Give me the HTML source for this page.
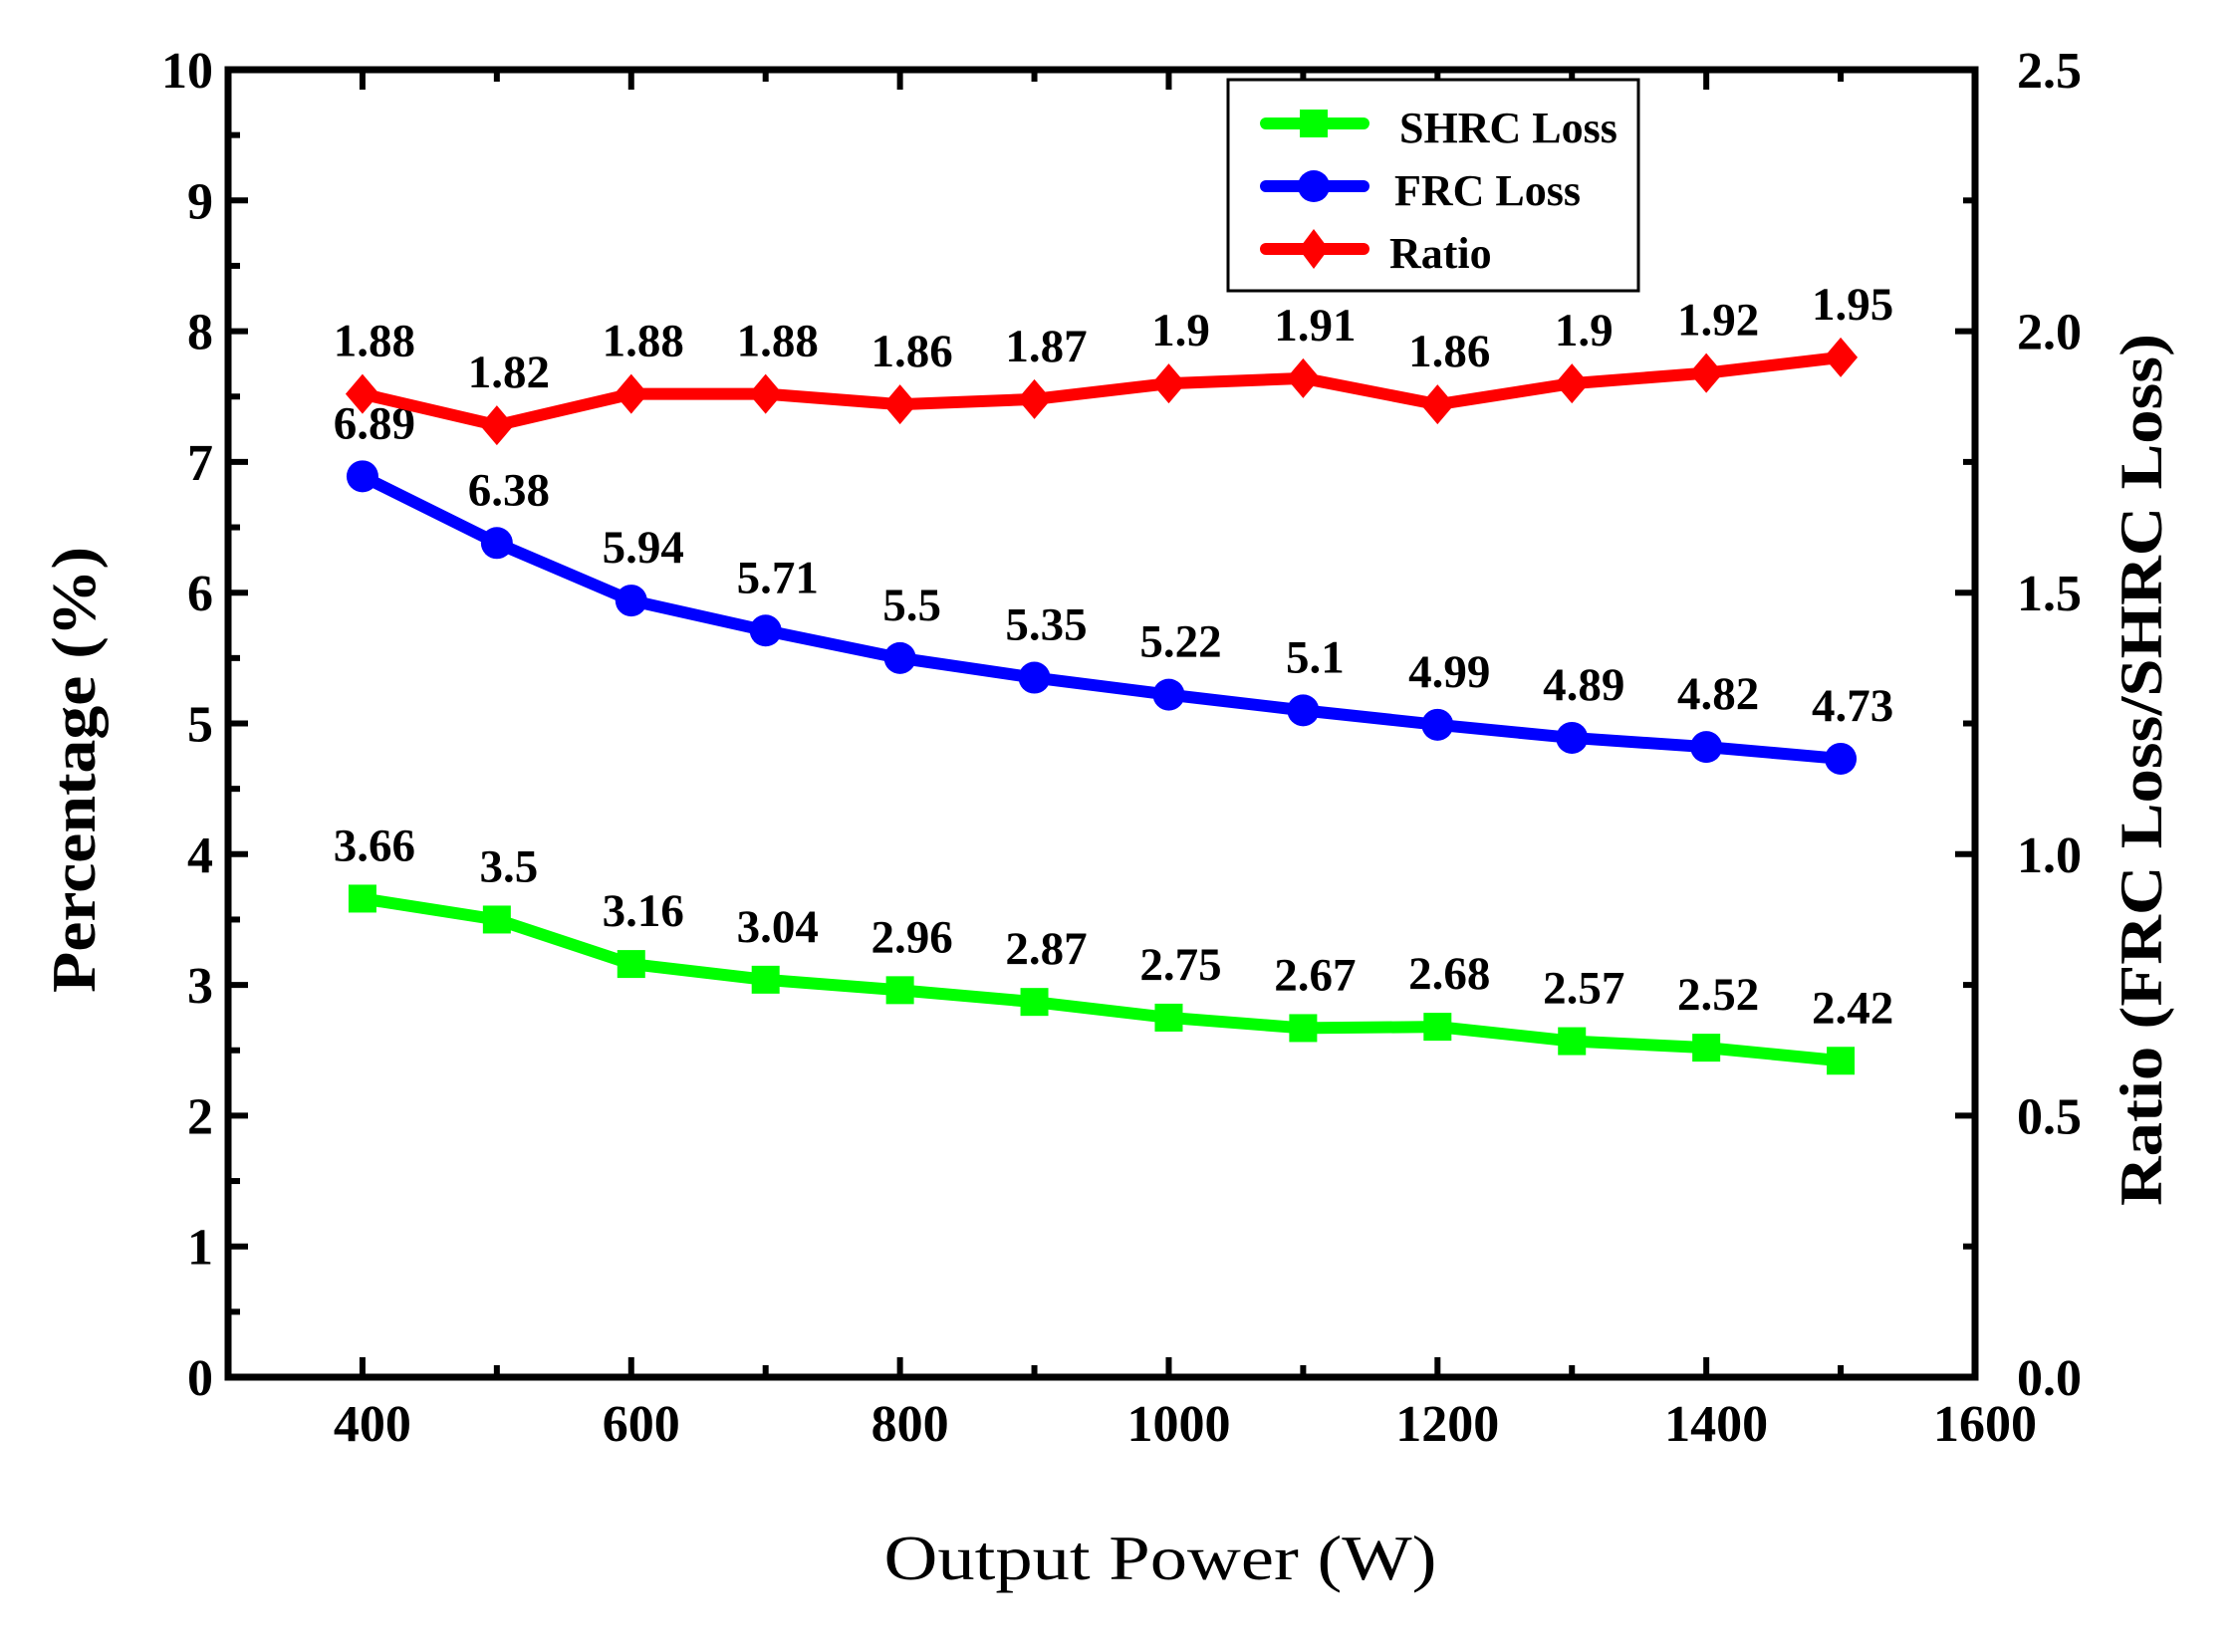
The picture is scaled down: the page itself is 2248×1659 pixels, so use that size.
<!DOCTYPE html>
<html><head><meta charset="utf-8"><style>
html,body{margin:0;padding:0;background:#fff;}
svg{display:block;}
text{font-family:"Liberation Serif",serif;}
</style></head><body>
<svg id="s" width="2248" height="1659" viewBox="0 0 2248 1659" xmlns="http://www.w3.org/2000/svg"></svg>
<script>
const s=document.getElementById('s');
const L=229,R=1983,T=70,B=1383;
const X=v=>L+(v-300)*(R-L)/1300;
const Y=v=>B-v*(B-T)/10;
const YR=v=>B-v*(B-T)/2.5;
let h='';
for(let v=400;v<=1500;v+=100){const x=X(v);const len=(v%200===0)?20:12;
 h+=`<line x1="${x}" y1="${B}" x2="${x}" y2="${B-len}" stroke="#000" stroke-width="6"/>`;
 h+=`<line x1="${x}" y1="${T}" x2="${x}" y2="${T+len}" stroke="#000" stroke-width="6"/>`;}
for(let v=0.5;v<10;v+=0.5){const y=Y(v);const len=(v%1===0)?20:12;
 h+=`<line x1="${L}" y1="${y}" x2="${L+len}" y2="${y}" stroke="#000" stroke-width="6"/>`;}
for(let k=1;k<10;k++){const y=Y(k);const len=(k%2===0)?20:12;
 h+=`<line x1="${R}" y1="${y}" x2="${R-len}" y2="${y}" stroke="#000" stroke-width="6"/>`;}
h+=`<rect x="${L}" y="${T}" width="${R-L}" height="${B-T}" fill="none" stroke="#000" stroke-width="7"/>`;
for(let k=0;k<=10;k++){h+=`<text x="214" y="${Y(k)+18}" font-size="52" font-weight="bold" text-anchor="end">${k}</text>`;}
['0.0','0.5','1.0','1.5','2.0','2.5'].forEach((t,i)=>{h+=`<text x="2025" y="${YR(i*0.5)+18}" font-size="52" font-weight="bold">${t}</text>`;});
for(let v=400;v<=1600;v+=200){h+=`<text x="${X(v)+10}" y="1447" font-size="52" font-weight="bold" text-anchor="middle">${v}</text>`;}
h+=`<text transform="translate(95,773) rotate(-90)" font-size="62" font-weight="bold" text-anchor="middle" textLength="448" lengthAdjust="spacingAndGlyphs">Percentage (%)</text>`;
h+=`<text transform="translate(2170,773) rotate(-90)" font-size="60" font-weight="bold" text-anchor="middle" textLength="876" lengthAdjust="spacingAndGlyphs">Ratio (FRC Loss/SHRC Loss)</text>`;
h+=`<text x="1165" y="1586" font-size="64" text-anchor="middle" textLength="555" lengthAdjust="spacingAndGlyphs">Output Power (W)</text>`;
const xs=[400,500,600,700,800,900,1000,1100,1200,1300,1400,1500];
const sh=[3.66,3.5,3.16,3.04,2.96,2.87,2.75,2.67,2.68,2.57,2.52,2.42];
const fr=[6.89,6.38,5.94,5.71,5.5,5.35,5.22,5.1,4.99,4.89,4.82,4.73];
const ra=[1.88,1.82,1.88,1.88,1.86,1.87,1.9,1.91,1.86,1.9,1.92,1.95];
function series(vals,yf,col,mk){
 const pts=xs.map((x,i)=>[X(x),yf(vals[i])]);
 h+=`<polyline points="${pts.map(p=>p.join(',')).join(' ')}" fill="none" stroke="${col}" stroke-width="12" stroke-linejoin="miter"/>`;
 pts.forEach((p,i)=>{
  if(mk==='s')h+=`<rect x="${p[0]-14}" y="${p[1]-14}" width="28" height="28" fill="${col}"/>`;
  if(mk==='c')h+=`<circle cx="${p[0]}" cy="${p[1]}" r="16" fill="${col}"/>`;
  if(mk==='d')h+=`<polygon points="${p[0]},${p[1]-20} ${p[0]+17},${p[1]} ${p[0]},${p[1]+20} ${p[0]-17},${p[1]}" fill="${col}"/>`;
  h+=`<text x="${p[0]+12}" y="${p[1]-38}" font-size="47" font-weight="bold" text-anchor="middle">${vals[i]}</text>`;
 });
}
series(sh,Y,'#00ff00','s');
series(fr,Y,'#0000ff','c');
series(ra,YR,'#ff0000','d');
h+=`<rect x="1233" y="80" width="412" height="212" fill="#fff" stroke="#000" stroke-width="3"/>`;
const le=[[124,'#00ff00','s','SHRC Loss',1405],[187,'#0000ff','c','FRC Loss',1400],[250,'#ff0000','d','Ratio',1395]];
le.forEach(([y,c,m,t,tx])=>{
 h+=`<line x1="1271" y1="${y}" x2="1369" y2="${y}" stroke="${c}" stroke-width="12" stroke-linecap="round"/>`;
 const cx=1319;
 if(m==='s')h+=`<rect x="${cx-14}" y="${y-14}" width="28" height="28" fill="${c}"/>`;
 if(m==='c')h+=`<circle cx="${cx}" cy="${y}" r="16" fill="${c}"/>`;
 if(m==='d')h+=`<polygon points="${cx},${y-20} ${cx+15},${y} ${cx},${y+20} ${cx-15},${y}" fill="${c}"/>`;
 h+=`<text x="${tx}" y="${y+19}" font-size="44" font-weight="bold">${t}</text>`;
});
s.innerHTML=h;
</script>
</body></html>
